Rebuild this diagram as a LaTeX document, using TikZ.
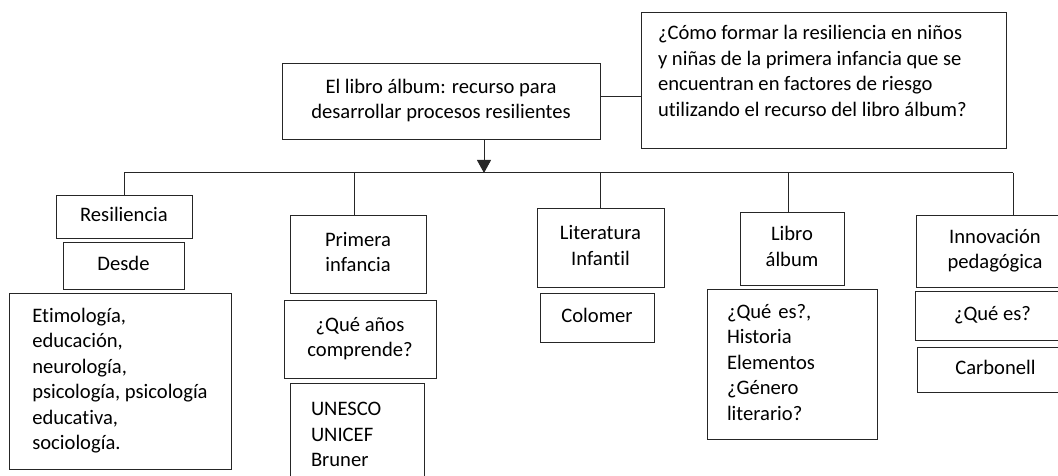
\documentclass[tikz,border=0pt]{standalone}
\usepackage{fontspec}
\setmainfont{Carlito}[Ligatures=NoCommon]
\usetikzlibrary{arrows.meta}
\begin{document}
\begin{tikzpicture}[x=1pt,y=-1pt,
  box/.style={draw=black!85, line width=0.9pt, inner sep=0pt, align=center,
    font=\fontsize{20.6}{25.5}\selectfont, text=black},
  link/.style={draw=black!85, line width=1pt},
]
\clip (0,0) rectangle (1058,476);
% top level
\node[box, minimum width=318, minimum height=76] (main) at (441,101)
  {\strut El libro álbum: recurso para\\desarrollar procesos resilientes\strut};
\node[box, minimum width=365, minimum height=136, inner xsep=17pt] (q) at (823.5,80)
  {\parbox[c][116pt][t]{331pt}{\raggedright\strut ¿Cómo formar la resiliencia en niños\\y niñas de la primera infancia que se\\encuentran en factores de riesgo\\utilizando el recurso del libro álbum?\strut}};
% column 1
\node[box, minimum width=136, minimum height=43] (res) at (124,216.5) {\strut Resiliencia};
\node[box, minimum width=121, minimum height=47] (desde) at (123.5,265.5) {\strut Desde};
\node[box, minimum width=222, minimum height=176, align=left] (etim) at (120,381)
  {\strut Etimología,\\educación,\\neurología,\\psicología, psicología\\educativa,\\sociología.\strut};
% column 2
\node[box, minimum width=136, minimum height=78] (prim) at (358,254) {\strut Primera\\infancia\strut};
\node[box, minimum width=152, minimum height=78] (anos) at (360,339) {\strut ¿Qué años\\comprende?\strut};
\node[box, minimum width=134, minimum height=106, text width=92pt, inner xsep=21pt, align=left] (unesco) at (357,436)
  {\strut UNESCO\\UNICEF\\Bruner\strut};
% column 3
\node[box, minimum width=127, minimum height=79] (lit) at (600.5,247.5) {\strut Literatura\\Infantil\strut};
\node[box, minimum width=114, minimum height=49] (colomer) at (597,317.5) {\strut Colomer};
% column 4
\node[box, minimum width=104, minimum height=73] (libro) at (792,248.5) {\strut Libro\\álbum\strut};
\node[box, minimum width=170, minimum height=150, text width=130pt, inner xsep=20pt, align=left] (quees) at (792,364)
  {\strut ¿Qué es?,\\Historia\\Elementos\\¿Género\\literario?\strut};
% column 5
\node[box, minimum width=158, minimum height=72] (inn) at (995,251) {\strut Innovación\\pedagógica\strut};
\node[box, minimum width=155, minimum height=49] (quees2) at (992.5,315.5) {\strut ¿Qué es?};
\node[box, minimum width=157, minimum height=45] (carb) at (995.5,369.5) {\strut Carbonell};
% connectors
\draw[link] ([yshift=4pt]main.east) -- ([yshift=4pt]main.east -| q.west);
\coordinate (hub) at (484,173);
\draw[link, -{Triangle[width=14pt,length=13pt]}] (hub |- main.south) -- (hub);
\coordinate (primTop) at ([xshift=-4pt]prim.north);
\coordinate (libroTop) at ([xshift=-4pt]libro.north);
\coordinate (innTop) at ([xshift=18pt]inn.north);
\draw[link] (res.north |- hub) -- (innTop |- hub);
\draw[link] (res.north |- hub) -- (res.north);
\draw[link] (primTop |- hub) -- (primTop);
\draw[link] (lit.north |- hub) -- (lit.north);
\draw[link] (libroTop |- hub) -- (libroTop);
\draw[link] (innTop |- hub) -- (innTop);
\end{tikzpicture}
\end{document}
